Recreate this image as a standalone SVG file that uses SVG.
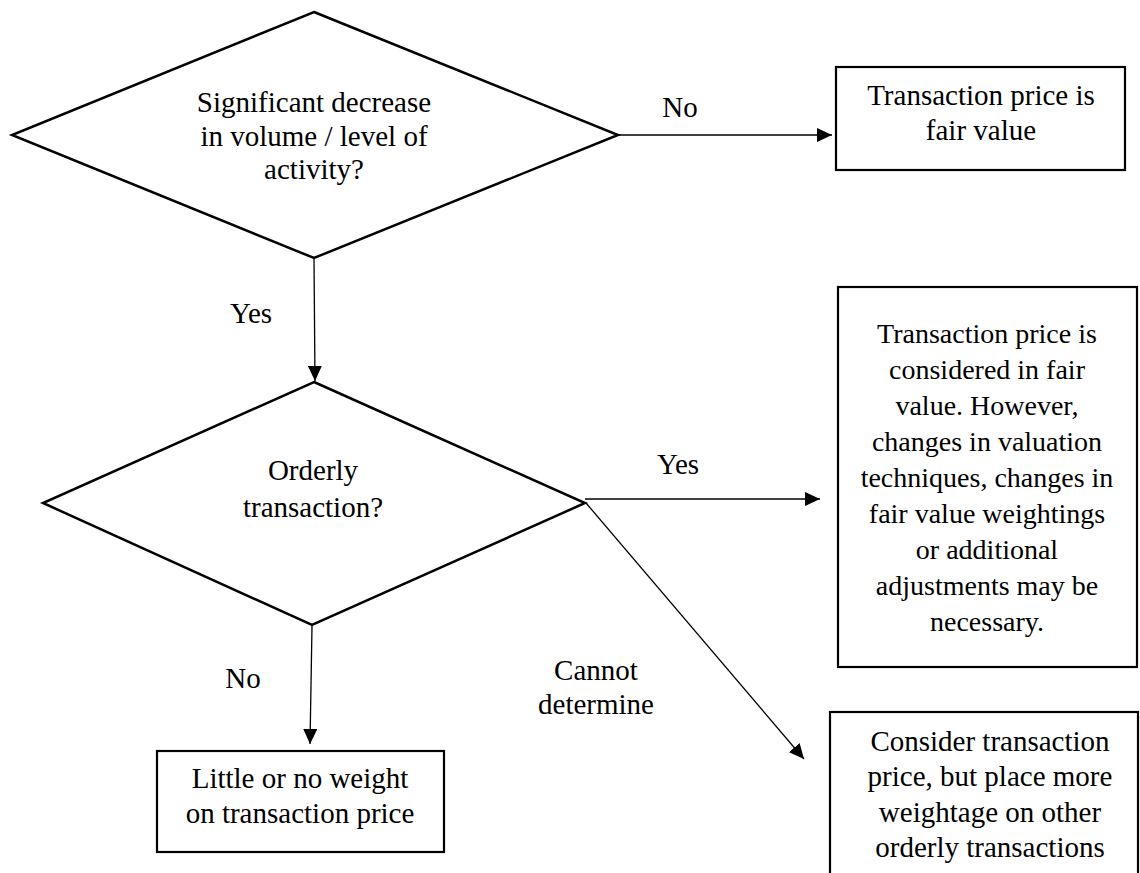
<svg xmlns="http://www.w3.org/2000/svg" width="1140" height="873" viewBox="0 0 1140 873">
<defs>
<marker id="ah" markerWidth="16" markerHeight="14" refX="15" refY="7" orient="auto" markerUnits="userSpaceOnUse">
<path d="M0,0 L15,7 L0,14 Z" fill="#000"/>
</marker>
<style>
.shape{fill:#fff;stroke:#000;stroke-width:2.5}
.box{fill:#fff;stroke:#000;stroke-width:2.2}
.conn{fill:none;stroke:#000;stroke-width:1.3}
text{font-family:'Liberation Serif','Times New Roman',Times,'DejaVu Serif',serif;font-size:29px;fill:#000;text-anchor:middle}
.sm{font-size:28px}
</style>
</defs>
<rect width="1140" height="873" fill="#fff"/>
<g id="connectors" font-family="Liberation Serif, serif">
<line class="conn" x1="619" y1="135" x2="832" y2="135" marker-end="url(#ah)"/>
<line class="conn" x1="314" y1="259" x2="315" y2="381" marker-end="url(#ah)"/>
<line class="conn" x1="585" y1="499" x2="820" y2="499" marker-end="url(#ah)"/>
<line class="conn" x1="586" y1="503" x2="804" y2="759" marker-end="url(#ah)"/>
<line class="conn" x1="312" y1="626" x2="310" y2="744" marker-end="url(#ah)"/>
<text x="680" y="117">No</text>
<text x="251" y="323">Yes</text>
<text x="678" y="474">Yes</text>
<text x="596" y="680">Cannot</text>
<text x="596" y="714">determine</text>
<text x="243" y="688">No</text>
</g>
<g id="d1">
<polygon class="shape" points="314,12 618,135 314,258 12,135"/>
<text x="314" y="112">Significant decrease</text>
<text x="314" y="146">in volume / level of</text>
<text x="314" y="179">activity?</text>
</g>
<g id="b1">
<rect class="box" x="836" y="67" width="289" height="103"/>
<text x="981" y="105">Transaction price is</text>
<text x="981" y="140">fair value</text>
</g>
<g id="d2">
<polygon class="shape" points="314,382 585,503 312,625 43,503"/>
<text x="313" y="480">Orderly</text>
<text x="313" y="517">transaction?</text>
</g>
<g id="b2">
<rect class="box" x="838" y="287" width="299" height="380"/>
<text class="sm" x="987" y="343">Transaction price is</text>
<text class="sm" x="987" y="379">considered in fair</text>
<text class="sm" x="987" y="415">value. However,</text>
<text class="sm" x="987" y="451">changes in valuation</text>
<text class="sm" x="987" y="487">techniques, changes in</text>
<text class="sm" x="987" y="523">fair value weightings</text>
<text class="sm" x="987" y="559">or additional</text>
<text class="sm" x="987" y="595">adjustments may be</text>
<text class="sm" x="987" y="631">necessary.</text>
</g>
<g id="b3">
<rect class="box" x="830" y="712" width="308" height="180"/>
<text x="990" y="751">Consider transaction</text>
<text x="990" y="786">price, but place more</text>
<text x="990" y="822">weightage on other</text>
<text x="990" y="857">orderly transactions</text>
</g>
<g id="b4">
<rect class="box" x="157" y="751" width="287" height="101"/>
<text x="300" y="788">Little or no weight</text>
<text x="300" y="823">on transaction price</text>
</g>
</svg>
